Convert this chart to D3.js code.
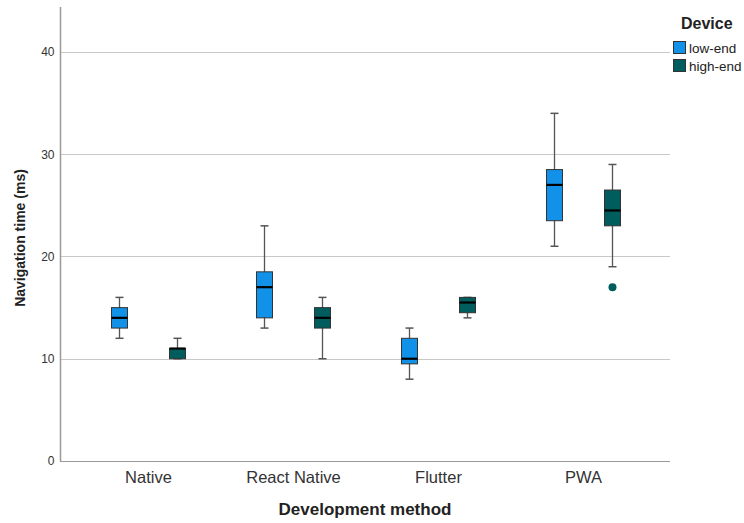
<!DOCTYPE html>
<html>
<head>
<meta charset="utf-8">
<script src="https://cdn.jsdelivr.net/npm/d3@7"></script>
<style>
  body { margin: 0; background: #fff; }
  text { font-family: Arial, "Liberation Sans", sans-serif; }
</style>
</head>
<body>
<div id="chart"></div>
<script>
var methods = ["Native", "React Native", "Flutter", "PWA"];
var devices = ["low-end", "high-end"];
var colors = ["#1192e8", "#005d5d"];
var yTicks = [0, 10, 20, 30, 40];

// [whiskerLow, q1, median, q3, whiskerHigh]
var lowEnd = [
  [12, 13, 14, 15, 16],
  [13, 14, 17, 18.5, 23],
  [8, 9.5, 10, 12, 13],
  [21, 23.5, 27, 28.5, 34]
];
var highEnd = [
  [10, 10, 11, 11, 12],
  [10, 13, 14, 15, 16],
  [14, 14.5, 15.5, 16, 16],
  [19, 23, 24.5, 26.5, 29]
];
var highEndOutliers = [[], [], [], [17]];

var width = 744, height = 523;
var svg = d3.select("#chart").append("svg")
  .attr("width", width)
  .attr("height", height);

var x = d3.scaleBand().domain(methods).range([76, 656]);
var sub = d3.scaleBand().domain(devices).range([-58, 58]);
var y = d3.scaleLinear().domain([0, 44.4]).range([461, 7]);

// gridlines
svg.append("g").selectAll("line")
  .data(yTicks.filter(d => d > 0))
  .enter().append("line")
  .attr("x1", 60).attr("x2", 670)
  .attr("y1", d => Math.round(y(d)) + 0.5).attr("y2", d => Math.round(y(d)) + 0.5)
  .attr("stroke", "#c8c8c8").attr("stroke-width", 1);

// y axis
var yAxis = svg.append("g")
  .attr("transform", "translate(60.5,0)")
  .call(d3.axisLeft(y).tickValues(yTicks).tickSize(0).tickPadding(6));
yAxis.select(".domain").attr("stroke", "#999").attr("stroke-width", 1.5).attr("d", "M0," + y(44.4) + "V" + y(0));
yAxis.selectAll(".tick text").attr("fill", "#333").style("font-size", "12px");

// x axis line
svg.append("line")
  .attr("x1", 60).attr("x2", 670)
  .attr("y1", 461.5).attr("y2", 461.5)
  .attr("stroke", "#999");

// x labels
svg.append("g").selectAll("text")
  .data(methods)
  .enter().append("text")
  .attr("x", d => x(d) + x.bandwidth() / 2)
  .attr("y", 483)
  .attr("text-anchor", "middle")
  .attr("fill", "#333")
  .style("font-size", "16.5px")
  .text(d => d);

// axis titles
svg.append("text")
  .attr("x", 365).attr("y", 515)
  .attr("text-anchor", "middle")
  .style("font-size", "17px").style("font-weight", "bold")
  .attr("fill", "#222")
  .text("Development method");
svg.append("text")
  .attr("transform", "translate(25,238) rotate(-90)")
  .attr("text-anchor", "middle")
  .style("font-size", "14px").style("font-weight", "bold")
  .attr("fill", "#222")
  .text("Navigation time (ms)");

// boxes
var boxW = 16, capW = 8;
function drawBoxes(stats, dev, color, outliers) {
  methods.forEach(function (m, i) {
    var s = stats[i];
    var cx = x(m) + x.bandwidth() / 2 + sub(dev) + sub.bandwidth() / 2;
    var g = svg.append("g");
    g.append("line")
      .attr("x1", cx).attr("x2", cx)
      .attr("y1", y(s[0])).attr("y2", y(s[4]))
      .attr("stroke", "#555").attr("stroke-width", 1.3);
    [s[0], s[4]].forEach(function (v) {
      g.append("line")
        .attr("x1", cx - capW / 2).attr("x2", cx + capW / 2)
        .attr("y1", y(v)).attr("y2", y(v))
        .attr("stroke", "#555").attr("stroke-width", 1.5);
    });
    g.append("rect")
      .attr("x", cx - boxW / 2).attr("width", boxW)
      .attr("y", y(s[3])).attr("height", Math.max(1, y(s[1]) - y(s[3])))
      .attr("fill", color).attr("stroke", "#333").attr("stroke-width", 1);
    g.append("line")
      .attr("x1", cx - boxW / 2).attr("x2", cx + boxW / 2)
      .attr("y1", y(s[2])).attr("y2", y(s[2]))
      .attr("stroke", "#000").attr("stroke-width", 2.2);
    (outliers ? outliers[i] : []).forEach(function (v) {
      g.append("circle")
        .attr("cx", cx).attr("cy", y(v)).attr("r", 4)
        .attr("fill", color);
    });
  });
}
drawBoxes(lowEnd, "low-end", colors[0], null);
drawBoxes(highEnd, "high-end", colors[1], highEndOutliers);

// legend
var lg = svg.append("g");
lg.append("text")
  .attr("x", 681).attr("y", 29)
  .style("font-size", "16px").style("font-weight", "bold")
  .attr("fill", "#222")
  .text("Device");
devices.forEach(function (d, i) {
  lg.append("rect")
    .attr("x", 673.5).attr("y", 41.5 + i * 18)
    .attr("width", 12).attr("height", 12)
    .attr("fill", colors[i]).attr("stroke", "#333");
  lg.append("text")
    .attr("x", 689).attr("y", 52.5 + i * 18)
    .style("font-size", "13.5px")
    .attr("fill", "#222")
    .text(d);
});
</script>
</body>
</html>
